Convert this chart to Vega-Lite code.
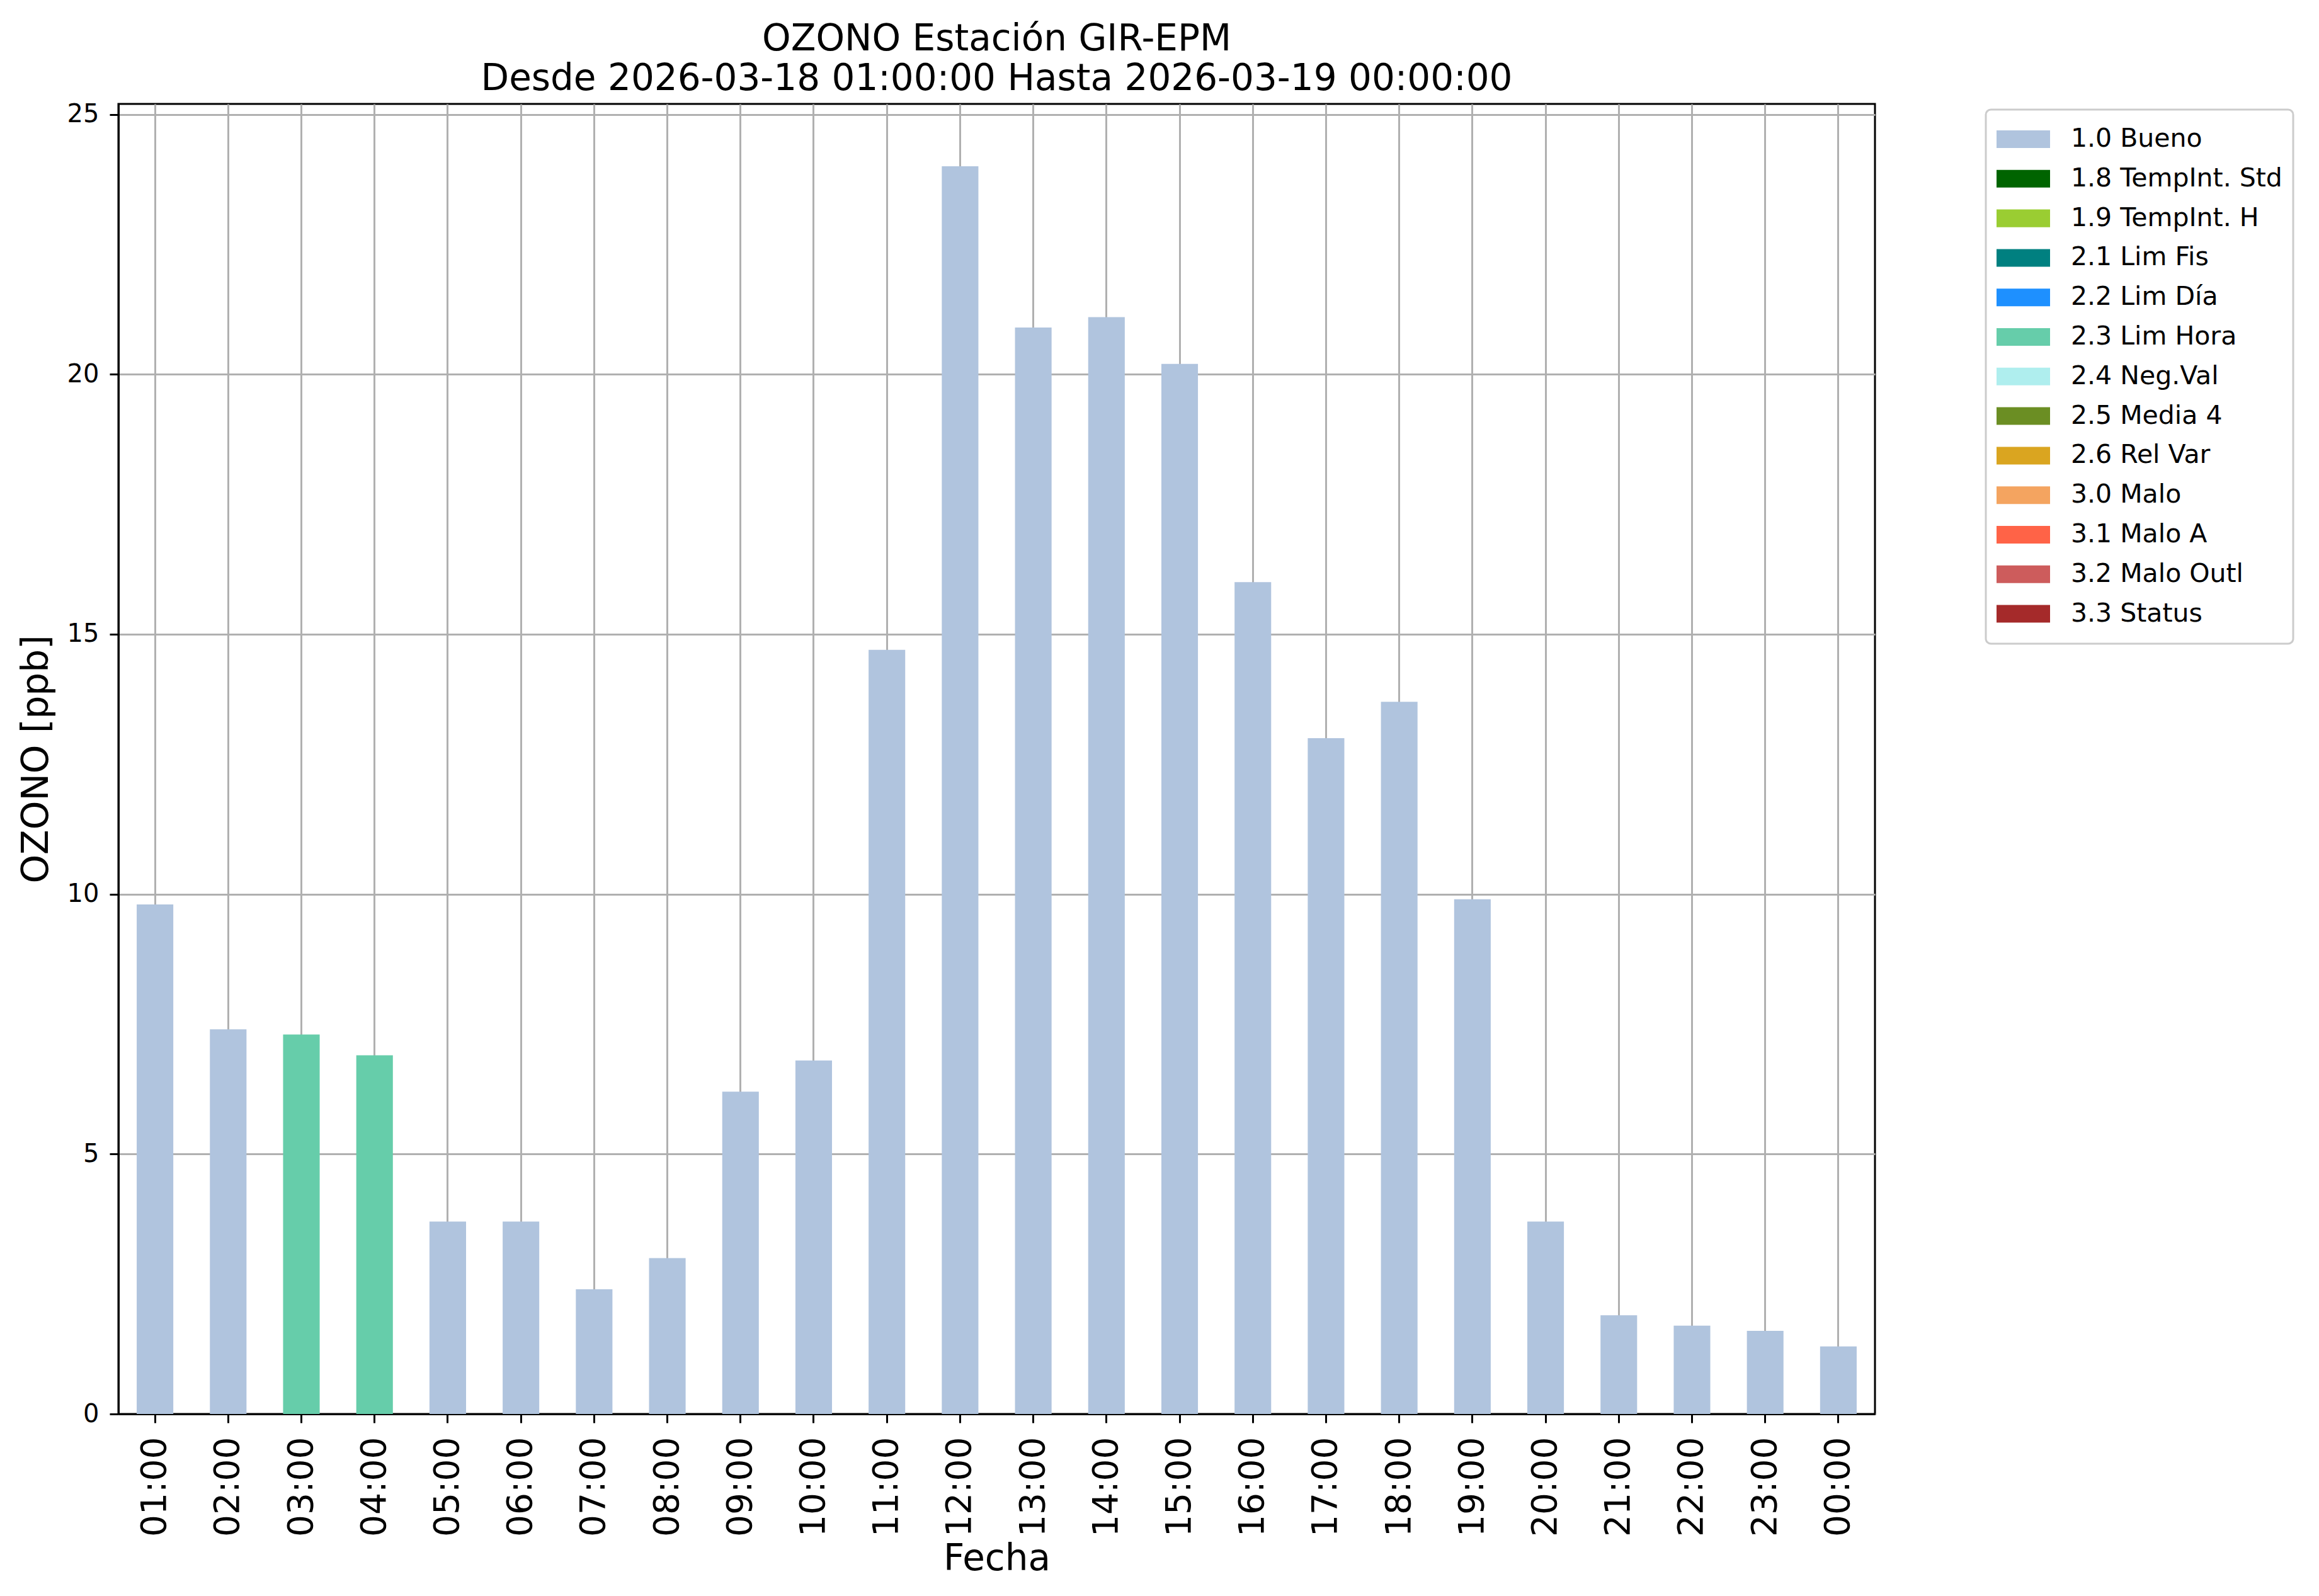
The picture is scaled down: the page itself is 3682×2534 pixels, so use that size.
{
  "$schema": "https://vega.github.io/schema/vega-lite/v6.json",
  "autosize": {"type": "none"},
  "width": 2789,
  "height": 2080,
  "padding": {"left": 188, "top": 165, "right": 705, "bottom": 289},
  "background": "white",
  "title": {
    "text": ["OZONO Estación GIR-EPM", "Desde 2026-03-18 01:00:00 Hasta 2026-03-19 00:00:00"],
    "font": "DejaVu Sans",
    "fontSize": 58,
    "fontWeight": "normal",
    "lineHeight": 63,
    "color": "black",
    "anchor": "middle",
    "offset": 7
  },
  "data": {
    "values": [
      {"hora": "01:00", "valor": 9.8, "flag": "1.0 Bueno"},
      {"hora": "02:00", "valor": 7.4, "flag": "1.0 Bueno"},
      {"hora": "03:00", "valor": 7.3, "flag": "2.3 Lim Hora"},
      {"hora": "04:00", "valor": 6.9, "flag": "2.3 Lim Hora"},
      {"hora": "05:00", "valor": 3.7, "flag": "1.0 Bueno"},
      {"hora": "06:00", "valor": 3.7, "flag": "1.0 Bueno"},
      {"hora": "07:00", "valor": 2.4, "flag": "1.0 Bueno"},
      {"hora": "08:00", "valor": 3.0, "flag": "1.0 Bueno"},
      {"hora": "09:00", "valor": 6.2, "flag": "1.0 Bueno"},
      {"hora": "10:00", "valor": 6.8, "flag": "1.0 Bueno"},
      {"hora": "11:00", "valor": 14.7, "flag": "1.0 Bueno"},
      {"hora": "12:00", "valor": 24.0, "flag": "1.0 Bueno"},
      {"hora": "13:00", "valor": 20.9, "flag": "1.0 Bueno"},
      {"hora": "14:00", "valor": 21.1, "flag": "1.0 Bueno"},
      {"hora": "15:00", "valor": 20.2, "flag": "1.0 Bueno"},
      {"hora": "16:00", "valor": 16.0, "flag": "1.0 Bueno"},
      {"hora": "17:00", "valor": 13.0, "flag": "1.0 Bueno"},
      {"hora": "18:00", "valor": 13.7, "flag": "1.0 Bueno"},
      {"hora": "19:00", "valor": 9.9, "flag": "1.0 Bueno"},
      {"hora": "20:00", "valor": 3.7, "flag": "1.0 Bueno"},
      {"hora": "21:00", "valor": 1.9, "flag": "1.0 Bueno"},
      {"hora": "22:00", "valor": 1.7, "flag": "1.0 Bueno"},
      {"hora": "23:00", "valor": 1.6, "flag": "1.0 Bueno"},
      {"hora": "00:00", "valor": 1.3, "flag": "1.0 Bueno"}
    ]
  },
  "mark": {"type": "bar"},
  "encoding": {
    "x": {
      "field": "hora",
      "type": "ordinal",
      "sort": null,
      "scale": {"paddingInner": 0.5, "paddingOuter": 0.25},
      "axis": {
        "title": "Fecha",
        "titleFontSize": 58,
        "titleFontWeight": "normal",
        "titleBaseline": "alphabetic",
        "titleX": 1394.5,
        "titleY": 247,
        "labelAngle": -90,
        "labelFontSize": 55,
        "labelPadding": 22,
        "grid": true,
        "bandPosition": 0.5,
        "tickBand": "center"
      }
    },
    "y": {
      "field": "valor",
      "type": "quantitative",
      "scale": {"domain": [0, 25.2], "nice": false, "zero": true},
      "axis": {
        "title": "OZONO [ppb]",
        "values": [0, 5, 10, 15, 20, 25],
        "titleFontSize": 58,
        "titleFontWeight": "normal",
        "titleBaseline": "alphabetic",
        "titleAngle": -90,
        "titleAlign": "center",
        "titleX": -113,
        "titleY": 1040,
        "labelFontSize": 40,
        "labelPadding": 17,
        "grid": true
      }
    },
    "color": {
      "field": "flag",
      "type": "nominal",
      "scale": {
        "domain": ["1.0 Bueno", "1.8 TempInt. Std", "1.9 TempInt. H", "2.1 Lim Fis", "2.2 Lim Día", "2.3 Lim Hora", "2.4 Neg.Val", "2.5 Media 4", "2.6 Rel Var", "3.0 Malo", "3.1 Malo A", "3.2 Malo Outl", "3.3 Status"],
        "range": ["#B0C4DE", "#006400", "#9ACD32", "#008080", "#1E90FF", "#66CDAA", "#AFEEEE", "#6B8E23", "#DAA520", "#F4A460", "#FF6347", "#CD5C5C", "#A52A2A"]
      },
      "legend": {
        "title": null,
        "orient": "none",
        "legendX": 2965,
        "legendY": 9,
        "symbolType": "M-1,-0.33H1V0.33H-1Z",
        "symbolSize": 7225,
        "symbolStrokeWidth": 0,
        "symbolOpacity": 1,
        "clipHeight": 60,
        "rowPadding": 2.8,
        "labelFontSize": 41,
        "labelOffset": 33,
        "labelLimit": 0,
        "labelColor": "black",
        "padding": 17,
        "strokeColor": "#cccccc",
        "cornerRadius": 8,
        "fillColor": "white"
      }
    }
  },
  "config": {
    "font": "DejaVu Sans",
    "view": {"stroke": "black", "strokeWidth": 3},
    "axis": {
      "labelFont": "DejaVu Sans",
      "titleFont": "DejaVu Sans",
      "labelColor": "black",
      "titleColor": "black",
      "domainColor": "black",
      "domainWidth": 3,
      "tickColor": "black",
      "tickWidth": 3,
      "tickSize": 14,
      "gridColor": "#b0b0b0",
      "gridWidth": 3,
      "gridOpacity": 1,
      "zindex": 1
    },
    "legend": {"labelFont": "DejaVu Sans", "strokeWidth": 3}
  }
}
